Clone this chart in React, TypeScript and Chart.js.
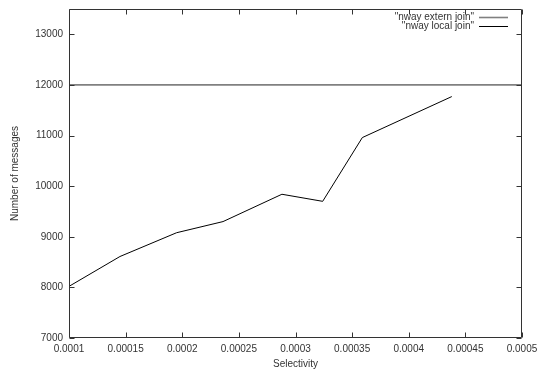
import React, { useEffect, useRef } from 'react';
import { Chart, registerables } from 'chart.js';

Chart.register(...registerables);

const xTickValues = [0.0001, 0.00015, 0.0002, 0.00025, 0.0003, 0.00035, 0.0004, 0.00045, 0.0005];
const xTickLabels = ['0.0001', '0.00015', '0.0002', '0.00025', '0.0003', '0.00035', '0.0004', '0.00045', '0.0005'];
const yTickValues = [7000, 8000, 9000, 10000, 11000, 12000, 13000];
const yTickLabels = ['7000', '8000', '9000', '10000', '11000', '12000', '13000'];

const externX = [0.0001, 0.0005];
const externY = [12000, 12000];
const localX = [0.0001, 0.000145, 0.000195, 0.000236, 0.000288, 0.000324, 0.000359, 0.000438];
const localY = [8020, 8610, 9080, 9300, 9840, 9700, 10960, 11770];

const seriesLabels = ['"nway extern join"', '"nway local join"'];
const seriesColors = ['#808080', '#000000'];
const seriesWidths = [1.6, 1];

const FONT = '"Liberation Sans", Arial, sans-serif';
const TEXT = '#333333';

const framePlugin = {
  id: 'gnuFrame',
  afterDatasetsDraw(chart: any) {
    const { ctx, chartArea: a, scales } = chart;
    const xs = scales.x;
    const ys = scales.y;
    ctx.save();
    ctx.strokeStyle = '#333333';
    ctx.lineWidth = 1;
    const L = Math.round(a.left) + 0.5;
    const R = Math.round(a.right) - 0.5;
    const T = Math.round(a.top) + 0.5;
    const B = Math.round(a.bottom) - 0.5;
    ctx.beginPath();
    ctx.rect(L, T, R - L, B - T);
    const tl = 5;
    xTickValues.forEach((v) => {
      const px = Math.round(xs.getPixelForValue(v)) + 0.5;
      ctx.moveTo(px, B);
      ctx.lineTo(px, B - tl);
      ctx.moveTo(px, T);
      ctx.lineTo(px, T + tl);
    });
    yTickValues.forEach((v) => {
      const py = Math.round(ys.getPixelForValue(v)) + 0.5;
      ctx.moveTo(L, py);
      ctx.lineTo(L + tl, py);
      ctx.moveTo(R, py);
      ctx.lineTo(R - tl, py);
    });
    ctx.stroke();

    // gnuplot-style key: text right-aligned, sample line to the right
    ctx.font = '10px ' + FONT;
    ctx.textAlign = 'right';
    ctx.textBaseline = 'middle';
    const textRight = a.right - 48;
    seriesLabels.forEach((lab, i) => {
      const yy = a.top + 8 + i * 9;
      ctx.fillStyle = TEXT;
      ctx.fillText(lab, textRight, yy);
      ctx.beginPath();
      ctx.strokeStyle = seriesColors[i];
      ctx.lineWidth = seriesWidths[i];
      const ly = Math.round(yy) + 0.5;
      ctx.moveTo(textRight + 5, ly);
      ctx.lineTo(textRight + 34, ly);
      ctx.stroke();
    });
    ctx.restore();
  },
};

export default function App() {
  const ref = useRef<HTMLCanvasElement | null>(null);

  useEffect(() => {
    if (!ref.current) return;
    const chart = new Chart(ref.current, {
      type: 'line',
      data: {
        datasets: [
          {
            label: seriesLabels[0],
            data: externX.map((x, i) => ({ x, y: externY[i] })),
            borderColor: seriesColors[0],
            borderWidth: seriesWidths[0],
            pointRadius: 0,
            tension: 0,
            fill: false,
          },
          {
            label: seriesLabels[1],
            data: localX.map((x, i) => ({ x, y: localY[i] })),
            borderColor: seriesColors[1],
            borderWidth: seriesWidths[1],
            pointRadius: 0,
            tension: 0,
            fill: false,
          },
        ],
      },
      options: {
        responsive: false,
        animation: false,
        layout: { padding: { top: 9, right: 17, bottom: 0, left: 0 } },
        plugins: { legend: { display: false }, tooltip: { enabled: false } },
        scales: {
          x: {
            type: 'linear',
            min: 0.0001,
            max: 0.0005,
            afterBuildTicks: (s: any) => {
              s.ticks = xTickValues.map((value) => ({ value }));
            },
            afterFit: (s: any) => {
              s.height = 34;
              s.paddingLeft = 0;
              s.paddingRight = 0;
            },
            grid: { display: false, drawTicks: false },
            border: { display: false },
            ticks: {
              autoSkip: false,
              maxRotation: 0,
              minRotation: 0,
              padding: 5,
              color: TEXT,
              font: { family: FONT, size: 10 },
              callback: (_v: any, i: number) => xTickLabels[i],
            },
            title: {
              display: true,
              text: 'Selectivity',
              color: TEXT,
              font: { family: FONT, size: 10 },
              padding: { top: 0, bottom: 2 },
            },
          },
          y: {
            type: 'linear',
            min: 7000,
            max: 13500,
            afterBuildTicks: (s: any) => {
              s.ticks = yTickValues.map((value) => ({ value }));
            },
            afterFit: (s: any) => {
              s.width = 69;
              s.paddingTop = 0;
              s.paddingBottom = 0;
            },
            grid: { display: false, drawTicks: false },
            border: { display: false },
            ticks: {
              autoSkip: false,
              padding: 6,
              color: TEXT,
              font: { family: FONT, size: 10 },
              callback: (_v: any, i: number) => yTickLabels[i],
            },
            title: {
              display: true,
              text: 'Number of messages',
              color: TEXT,
              font: { family: FONT, size: 10 },
              padding: { top: 9, bottom: 0 },
            },
          },
        },
      },
      plugins: [framePlugin],
    } as any);
    return () => chart.destroy();
  }, []);

  return (
    <div style={{ position: 'absolute', left: 0, top: 0, width: 539, height: 372, background: '#ffffff' }}>
      <canvas ref={ref} width={539} height={372} style={{ display: 'block' }} />
    </div>
  );
}
